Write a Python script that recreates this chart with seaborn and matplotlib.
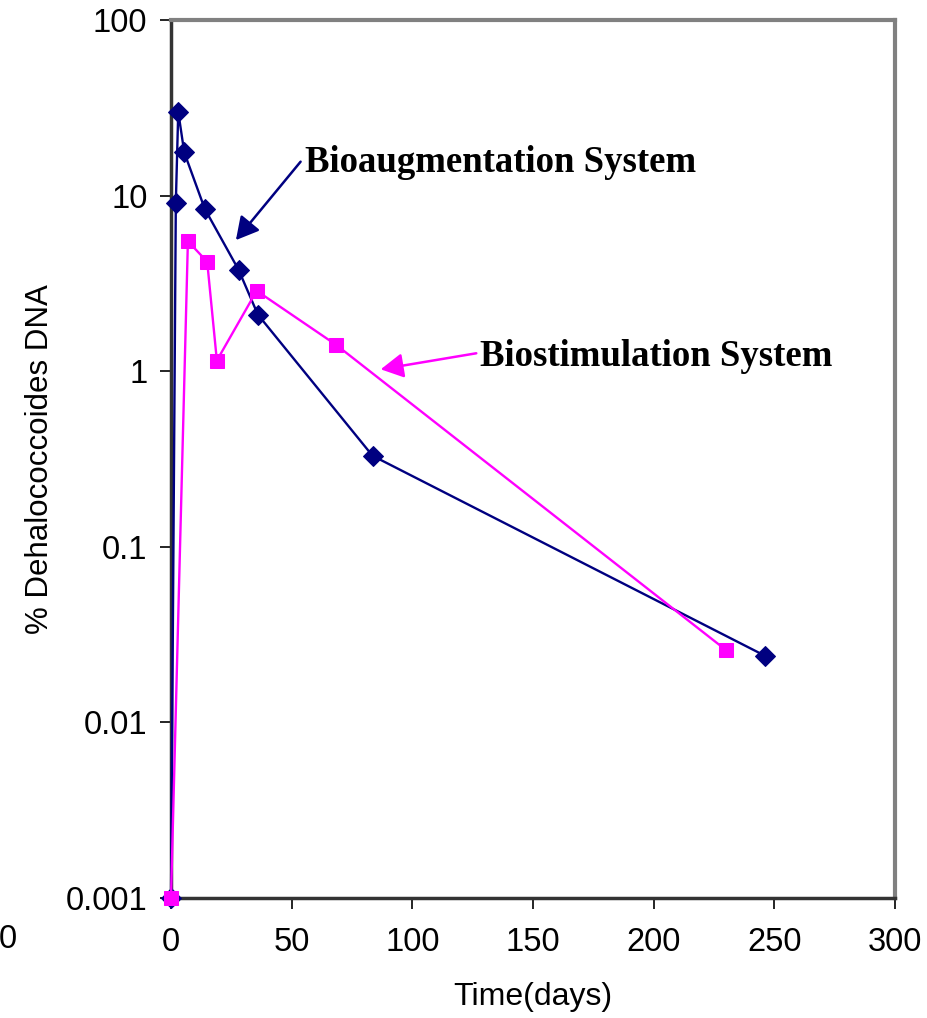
import matplotlib
matplotlib.use("Agg")
import matplotlib.pyplot as plt
import seaborn as sns
import pandas as pd
from matplotlib.ticker import FixedLocator, FixedFormatter, NullLocator

# Data
bioaug_days = [0, 2, 3, 5.5, 14, 28, 36, 83.5, 246]
bioaug_pct = [0.001, 9.1, 30, 17.6, 8.4, 3.78, 2.1, 0.33, 0.024]
biostim_days = [0, 7, 15, 19, 35.5, 68.5, 230]
biostim_pct = [0.001, 5.5, 4.2, 1.15, 2.87, 1.41, 0.0258]

x_ticks = [0, 50, 100, 150, 200, 250, 300]
y_ticks = [0.001, 0.01, 0.1, 1, 10, 100]
y_tick_labels = ["0.001", "0.01", "0.1", "1", "10", "100"]

sns.set_style("white")
plt.rcParams['font.family'] = ['Liberation Sans', 'DejaVu Sans']
plt.rcParams['text.color'] = 'black'

fig = plt.figure(figsize=(9.27, 10.18), dpi=100)
ax = fig.add_axes([171/927, 1-898/1018, (895-171)/927, (898-20)/1018])

df_a = pd.DataFrame({"days": bioaug_days, "pct": bioaug_pct})
df_s = pd.DataFrame({"days": biostim_days, "pct": biostim_pct})

sns.lineplot(data=df_a, x="days", y="pct", ax=ax, color="#000080", lw=1.7,
             marker="D", markersize=10.5, markeredgecolor="#000080", sort=False,
             clip_on=False, zorder=3)
sns.lineplot(data=df_s, x="days", y="pct", ax=ax, color="#FF00FF", lw=1.7,
             marker="s", markersize=10, markeredgecolor="#FF00FF", sort=False,
             clip_on=False, zorder=4)

ax.set_yscale("log")
ax.set_xlim(0, 300)
ax.set_ylim(0.001, 100)
ax.yaxis.set_major_locator(FixedLocator(y_ticks))
ax.yaxis.set_major_formatter(FixedFormatter(y_tick_labels))
ax.yaxis.set_minor_locator(NullLocator())
ax.set_xticks(x_ticks)
ax.set_xticklabels([str(t) for t in x_ticks])

ax.tick_params(axis="both", direction="out", length=8, width=1.2, color="black",
               labelsize=23.5, labelcolor="black", left=True, bottom=True)
ax.tick_params(axis="x", pad=13)
ax.tick_params(axis="y", pad=9)

for s in ["left", "bottom"]:
    ax.spines[s].set_color("#333333")
    ax.spines[s].set_linewidth(2.5)
for s in ["top", "right"]:
    ax.spines[s].set_color("#808080")
    ax.spines[s].set_linewidth(3)

ax.set_xlabel("Time(days)", fontsize=23, labelpad=17, color="black")
ax.set_ylabel("% Dehalococcoides DNA", fontsize=22.5, labelpad=8, color="black")

# Annotations
ax.text(55.5, 15.4, "Bioaugmentation System", fontsize=26.5, fontweight="bold",
        family="Liberation Serif", va="center", ha="left", color="black")
ax.annotate("", xy=(26.9, 5.58), xytext=(53.7, 15.6),
            arrowprops=dict(arrowstyle="-|>,head_length=0.55,head_width=0.3",
                            color="#000080", lw=1.8, mutation_scale=25,
                            shrinkA=0, shrinkB=0))
ax.text(127.9, 1.205, "Biostimulation System", fontsize=26.5, fontweight="bold",
        family="Liberation Serif", va="center", ha="left", color="black")
ax.annotate("", xy=(86.9, 1.025), xytext=(126.5, 1.265),
            arrowprops=dict(arrowstyle="-|>,head_length=0.55,head_width=0.3",
                            color="#FF00FF", lw=1.8, mutation_scale=25,
                            shrinkA=0, shrinkB=0))

fig.text(8/927, 1-940/1018, "0", fontsize=23.5, ha="center", va="center")

fig.savefig("out.png", dpi=100)
